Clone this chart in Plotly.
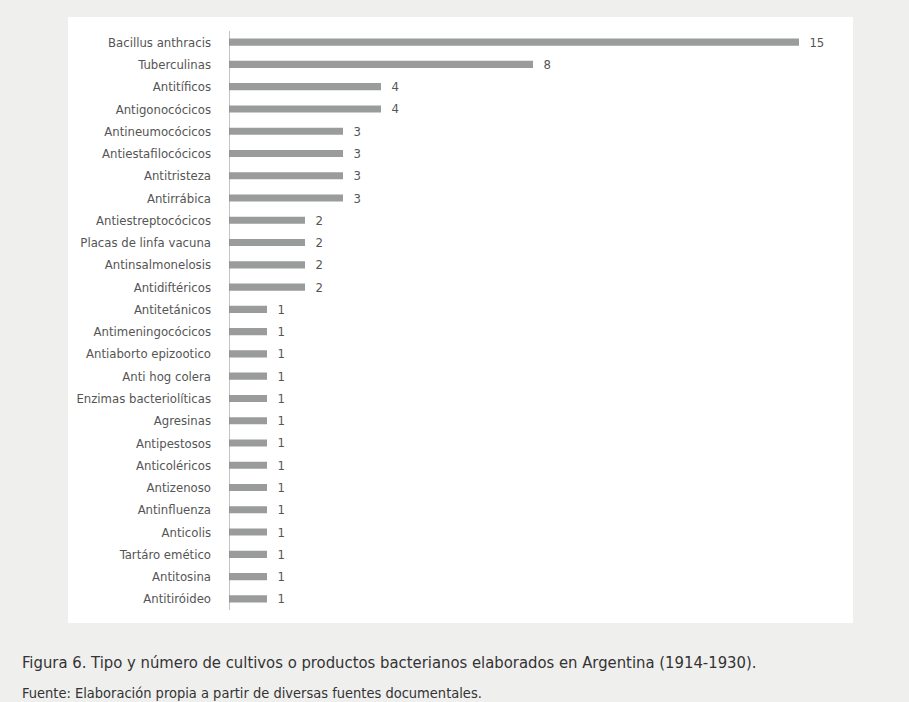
import plotly.graph_objects as go

categories = ["Bacillus anthracis", "Tuberculinas", "Antitíficos", "Antigonocócicos",
              "Antineumocócicos", "Antiestafilocócicos", "Antitristeza", "Antirrábica",
              "Antiestreptocócicos", "Placas de linfa vacuna", "Antinsalmonelosis",
              "Antidiftéricos", "Antitetánicos", "Antimeningocócicos", "Antiaborto epizootico",
              "Anti hog colera", "Enzimas bacteriolíticas", "Agresinas", "Antipestosos",
              "Anticoléricos", "Antizenoso", "Antinfluenza", "Anticolis", "Tartáro emético",
              "Antitosina", "Antitiróideo"]
values = [15, 8, 4, 4, 3, 3, 3, 3, 2, 2, 2, 2, 1, 1, 1, 1, 1, 1, 1, 1, 1, 1, 1, 1, 1, 1]

caption = "Figura 6. Tipo y número de cultivos o productos bacterianos elaborados en Argentina (1914-1930)."
source = "Fuente: Elaboración propia a partir de diversas fuentes documentales."

FONT = "DejaVu Sans Condensed, Liberation Sans Narrow, Arial Narrow, sans-serif"
W, H = 909, 702
L, R, T, B = 229, 66, 31, 92
PW = W - L - R
PH = H - T - B

def px(x):
    return (x - L) / PW

def py(y):
    return (H - B - y) / PH

fig = go.Figure(go.Bar(
    x=values, y=categories, orientation="h",
    marker=dict(color="#9a9c9c", line=dict(width=0)),
    text=values, texttemplate="  %{x}", textposition="outside",
    constraintext="none",
    textfont=dict(family=FONT, size=13, color="#555555"),
    cliponaxis=False, hoverinfo="skip",
))

fig.update_layout(
    width=W, height=H,
    margin=dict(l=L, r=R, t=T, b=B),
    paper_bgcolor="#efefee", plot_bgcolor="rgba(0,0,0,0)",
    bargap=0.68, showlegend=False,
    font=dict(family=FONT, color="#555555"),
    xaxis=dict(range=[0, PW / 38.0], visible=False, fixedrange=True),
    yaxis=dict(autorange="reversed", showgrid=False, zeroline=False,
               showline=False, ticks="", ticklabelstandoff=17,
               tickfont=dict(family=FONT, size=13, color="#555555")),
    shapes=[
        dict(type="rect", xref="paper", yref="paper", layer="below",
             x0=px(68), x1=px(853), y0=py(623), y1=py(17),
             fillcolor="white", line=dict(width=0)),
        dict(type="line", xref="x", yref="paper", x0=0, x1=0, y0=0, y1=1,
             line=dict(color="#8a8a8a", width=1)),
    ],
    annotations=[
        dict(text=caption, xref="paper", yref="paper", x=px(20), y=py(662),
             xanchor="left", yanchor="middle", showarrow=False,
             font=dict(family=FONT, size=16.5, color="#333333")),
        dict(text=source, xref="paper", yref="paper", x=px(20), y=py(693),
             xanchor="left", yanchor="middle", showarrow=False,
             font=dict(family=FONT, size=14.5, color="#333333")),
    ],
)

fig.write_html("out.html")
